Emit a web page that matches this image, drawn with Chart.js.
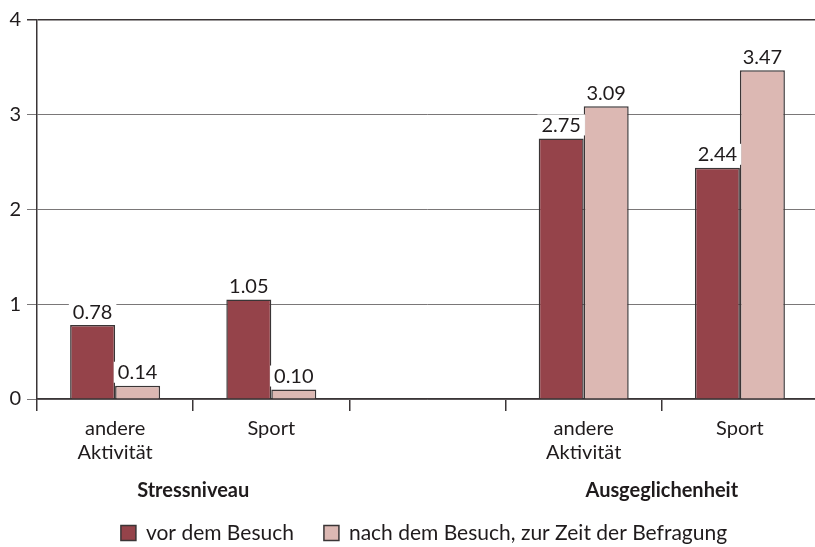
<!DOCTYPE html>
<html>
<head>
<meta charset="utf-8">
<script src="https://cdn.jsdelivr.net/npm/chart.js@4.4.1/dist/chart.umd.min.js"></script>
<style>
  html, body { margin: 0; padding: 0; background: #fff; overflow: hidden; }
  #wrap { width: 818px; height: 547px; }
</style>
</head>
<body>
<div id="wrap"><canvas id="chart"></canvas></div>
<script>
// Kategorien (leerer Platz zwischen den beiden Gruppen)
var categories = [['andere', 'Aktivität'], 'Sport', '', ['andere', 'Aktivität'], 'Sport'];
var groupNames = ['Stressniveau', 'Ausgeglichenheit'];
var groupCenters = [0.5, 3.5];   // Position zwischen den Kategorien (Index)
var seriesNames = ['vor dem Besuch', 'nach dem Besuch, zur Zeit der Befragung'];
var vorBesuch = [0.78, 1.05, null, 2.75, 2.44];
var nachBesuch = [0.14, 0.10, null, 3.09, 3.47];
var yTicks = [0, 1, 2, 3, 4];

var FONT = 'Lato, "Open Sans", sans-serif';
var TEXT = '#1f1b1c';
var LINE = '#3a3536';

// Werte über den Balken, weiß hinterlegt
var valueLabels = {
    id: 'valueLabels',
    afterDatasetsDraw: function(chart) {
        var ctx = chart.ctx;
        ctx.save();
        ctx.font = '20px ' + FONT;
        ctx.textAlign = 'center';
        ctx.textBaseline = 'bottom';
        chart.data.datasets.forEach(function(ds, i) {
            chart.getDatasetMeta(i).data.forEach(function(bar, j) {
                if (ds.data[j] == null) return;
                var txt = ds.data[j].toFixed(2);
                var w = ctx.measureText(txt).width;
                ctx.fillStyle = '#fff';
                ctx.fillRect(bar.x - w / 2 - 4, bar.y - 24, w + 8, 21);
                ctx.fillStyle = TEXT;
                ctx.fillText(txt, bar.x, bar.y - 3);
            });
        });
        ctx.restore();
    }
};

// Gruppennamen und Legende unter der Achse
var extras = {
    id: 'extras',
    afterDraw: function(chart) {
        var ctx = chart.ctx;
        var x = chart.scales.x;
        var bottom = chart.chartArea.bottom;
        ctx.save();
        ctx.fillStyle = TEXT;
        ctx.textAlign = 'center';
        ctx.textBaseline = 'middle';
        ctx.font = 'bold 20px ' + FONT;
        groupNames.forEach(function(name, i) {
            var px = x.getPixelForValue(groupCenters[i]);
            ctx.fillText(name, px, bottom + 92);
        });

        // Legende
        ctx.font = '21px ' + FONT;
        ctx.textAlign = 'left';
        var box = 15, gapText = 10, gapItem = 30;
        var widths = seriesNames.map(function(n) { return box + gapText + ctx.measureText(n).width; });
        var total = widths[0] + widths[1] + gapItem;
        var lx = 424 - total / 2;
        var ly = bottom + 134;
        chart.data.datasets.forEach(function(ds, i) {
            ctx.fillStyle = ds.backgroundColor;
            ctx.fillRect(lx, ly - box / 2, box, box);
            ctx.strokeStyle = LINE;
            ctx.lineWidth = 1.5;
            ctx.strokeRect(lx, ly - box / 2, box, box);
            ctx.fillStyle = TEXT;
            ctx.fillText(seriesNames[i], lx + box + gapText, ly);
            lx += widths[i] + gapItem;
        });
        ctx.restore();
    }
};

new Chart(document.getElementById('chart'), {
    type: 'bar',
    data: {
        labels: categories,
        datasets: [
            {
                label: seriesNames[0],
                data: vorBesuch,
                backgroundColor: '#95434a',
                borderColor: LINE,
                borderWidth: 1.5,
                borderSkipped: 'bottom',
                categoryPercentage: 0.576,
                barPercentage: 1
            },
            {
                label: seriesNames[1],
                data: nachBesuch,
                backgroundColor: '#dcb8b3',
                borderColor: LINE,
                borderWidth: 1.5,
                borderSkipped: 'bottom',
                categoryPercentage: 0.576,
                barPercentage: 1
            }
        ]
    },
    options: {
        responsive: true,
        maintainAspectRatio: false,
        animation: false,
        events: [],
        layout: {
            padding: { top: 20, right: 0, left: 0, bottom: 0 }
        },
        plugins: {
            legend: { display: false },
            tooltip: { enabled: false }
        },
        scales: {
            x: {
                offset: true,
                afterFit: function(scale) { scale.height = 148; },
                grid: {
                    offset: true,
                    drawOnChartArea: false,
                    drawTicks: true,
                    tickLength: 12,
                    color: LINE,
                    lineWidth: 1.5
                },
                border: { display: true, color: LINE, width: 1.5 },
                ticks: {
                    color: TEXT,
                    font: { family: FONT, size: 20 },
                    padding: 6,
                    maxRotation: 0,
                    autoSkip: false
                }
            },
            y: {
                min: 0,
                max: 4,
                afterFit: function(scale) { scale.width = 37; },
                afterBuildTicks: function(scale) {
                    scale.ticks = yTicks.map(function(v) { return { value: v }; });
                },
                grid: {
                    tickLength: 10,
                    color: function(c) { return c.tick && c.tick.value === 4 ? LINE : '#7a7778'; },
                    lineWidth: function(c) { return c.tick && c.tick.value === 4 ? 1.5 : 1; }
                },
                border: { display: true, color: LINE, width: 1.5 },
                ticks: {
                    color: TEXT,
                    font: { family: FONT, size: 20 },
                    padding: 6
                }
            }
        }
    },
    plugins: [valueLabels, extras]
});
</script>
</body>
</html>
